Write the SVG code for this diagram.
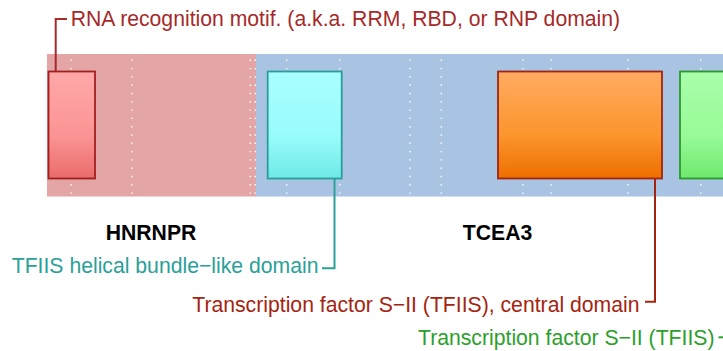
<svg xmlns="http://www.w3.org/2000/svg" width="723" height="351" viewBox="0 0 723 351">
<defs>
<style>
text{font-family:"Liberation Sans",Arial,sans-serif;font-size:21.2px}
.gene{font-weight:bold;fill:#000;text-anchor:middle}
.dot{stroke:#ffffff;stroke-width:1.4;stroke-dasharray:1.4 6.9;fill:none}
.conn{fill:none;stroke-width:2}
.box{stroke-width:1.8}
</style>
<linearGradient id="gRed" x1="0" y1="0" x2="0" y2="1"><stop offset="0" stop-color="#ffa8a8"/><stop offset="0.6" stop-color="#fb9494"/><stop offset="1" stop-color="#ea6b6b"/></linearGradient>
<linearGradient id="gCyan" x1="0" y1="0" x2="0" y2="1"><stop offset="0" stop-color="#aaffff"/><stop offset="0.6" stop-color="#99fcfc"/><stop offset="1" stop-color="#6ee9e6"/></linearGradient>
<linearGradient id="gOrange" x1="0" y1="0" x2="0" y2="1"><stop offset="0" stop-color="#ffab62"/><stop offset="0.6" stop-color="#fb952c"/><stop offset="1" stop-color="#ee6e00"/></linearGradient>
<linearGradient id="gGreen" x1="0" y1="0" x2="0" y2="1"><stop offset="0" stop-color="#aaffaa"/><stop offset="0.6" stop-color="#98fa98"/><stop offset="1" stop-color="#6ee86e"/></linearGradient>
</defs>
<rect width="723" height="351" fill="#ffffff"/>
<g id="backgrounds">
<rect x="47" y="54" width="209" height="142.5" fill="#e3a5a5"/>
<rect x="256" y="54" width="467" height="142.5" fill="#a9c4e3"/>
</g>
<g id="gridlines">
<line class="dot" x1="71" y1="59.6" x2="71" y2="196"/>
<line class="dot" x1="131.7" y1="59.6" x2="131.7" y2="196"/>
<line class="dot" x1="250.3" y1="59.6" x2="250.3" y2="196"/>
<line class="dot" x1="255.3" y1="59.6" x2="255.3" y2="196"/>
<line class="dot" x1="286.7" y1="59.6" x2="286.7" y2="196"/>
<line class="dot" x1="339.7" y1="59.6" x2="339.7" y2="196"/>
<line class="dot" x1="410" y1="59.6" x2="410" y2="196"/>
<line class="dot" x1="441.3" y1="59.6" x2="441.3" y2="196"/>
<line class="dot" x1="523" y1="59.6" x2="523" y2="196"/>
<line class="dot" x1="551" y1="59.6" x2="551" y2="196"/>
<line class="dot" x1="628" y1="59.6" x2="628" y2="196"/>
<line class="dot" x1="700.7" y1="59.6" x2="700.7" y2="196"/>
</g>
<g id="connectors">
<path class="conn" stroke="#a52a2a" d="M55.7,71.5 V19 H67"/>
<path class="conn" stroke="#2aa198" d="M334.5,178.5 V268.3 H322"/>
<path class="conn" stroke="#a52410" d="M655,178.5 V301.7 H645"/>
<path class="conn" stroke="#2ca02c" d="M718.5,337.3 H730"/>
</g>
<g id="rrm">
<rect class="box" x="48.5" y="71.5" width="46.5" height="107" fill="url(#gRed)" stroke="#a02020"/>
<text x="70.7" y="26" fill="#a52a2a">RNA recognition motif. (a.k.a. RRM, RBD, or RNP domain)</text>
</g>
<g id="tfiis-helical">
<rect class="box" x="267.7" y="71.5" width="74" height="107" fill="url(#gCyan)" stroke="#2a9d9a"/>
<text x="318.5" y="273.3" text-anchor="end" fill="#2aa198">TFIIS helical bundle−like domain</text>
</g>
<g id="tfiis-central">
<rect class="box" x="498" y="71.5" width="164" height="107" fill="url(#gOrange)" stroke="#a02510"/>
<text x="639.5" y="311.7" text-anchor="end" fill="#a52410">Transcription factor S−II (TFIIS), central domain</text>
</g>
<g id="tfiis">
<rect class="box" x="680" y="71.5" width="60" height="107" fill="url(#gGreen)" stroke="#2a9a2a"/>
<text x="714.5" y="345" text-anchor="end" fill="#2ca02c">Transcription factor S−II (TFIIS)</text>
</g>
<g id="hnrnpr"><text class="gene" x="151" y="240">HNRNPR</text></g>
<g id="tcea3"><text class="gene" x="497.5" y="240">TCEA3</text></g>
</svg>
